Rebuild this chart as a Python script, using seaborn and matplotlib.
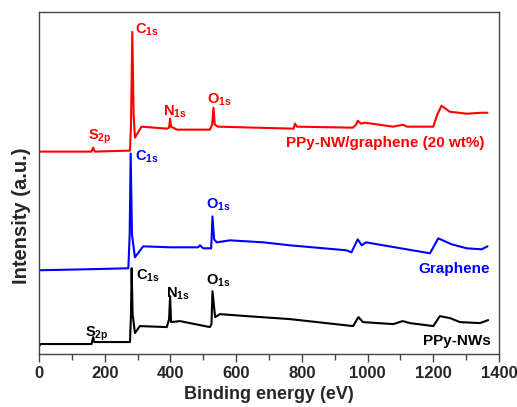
import seaborn as sns
import matplotlib.pyplot as plt
import pandas as pd
from matplotlib.ticker import MultipleLocator

# binding energy (eV) / intensity (a.u., arbitrary offset units)
ppy_x = [0, 5, 160, 165, 168, 277, 280, 282, 285, 292, 307, 389, 396, 399, 402, 429,
         520, 525, 528, 536, 551, 632, 764, 956, 972, 986, 1078, 1107, 1129, 1200,
         1220, 1251, 1281, 1342, 1367]
ppy_y = [8, 10, 10, 17, 12, 12, 40, 86, 40, 21, 28, 27, 35, 58, 32, 33,
         27, 30, 63, 37, 40, 38, 35, 28, 37, 32, 30, 33, 31, 28,
         38, 36, 32, 31, 34]

gr_x = [0, 150, 272, 276, 279, 283, 292, 317, 400, 484, 490, 500, 524, 528, 533, 541,
        581, 683, 764, 936, 951, 970, 982, 995, 1190, 1215, 1256, 1302, 1347, 1365]
gr_y = [84, 85, 86, 120, 201, 120, 97, 108, 107, 107, 109, 106, 106, 138, 115, 112,
        114, 112, 109, 104, 102, 115, 109, 112, 101, 116, 110, 106, 105, 108]

comp_x = [0, 160, 165, 170, 277, 280, 284, 288, 292, 312, 390, 396, 399, 402, 420,
          520, 527, 531, 535, 545, 660, 775, 779, 785, 955, 965, 970, 980, 992, 1078,
          1108, 1120, 1200, 1212, 1225, 1250, 1302, 1350, 1365]
comp_y = [203, 203, 207, 203, 204, 230, 323, 240, 217, 228, 226, 227, 236, 228, 225,
          225, 230, 247, 230, 228, 227, 226, 231, 228, 227, 230, 234, 231, 232, 228,
          230, 228, 228, 240, 249, 243, 241, 242, 242]

series_names = ["PPy-NWs", "Graphene", "PPy-NW/graphene (20 wt%)"]
series_colors = ["#000000", "#0000ff", "#ff0000"]

# peak labels: (text, energy, intensity) per series
peak_labels = [
    [("S$_{2p}$", 140, 20), ("C$_{1s}$", 295, 78), ("N$_{1s}$", 388, 60), ("O$_{1s}$", 508, 73)],
    [("C$_{1s}$", 292, 198), ("O$_{1s}$", 508, 150)],
    [("S$_{2p}$", 149, 218), ("C$_{1s}$", 292, 325), ("N$_{1s}$", 377, 243), ("O$_{1s}$", 511, 255)],
]
label_pos = [(1375, 13), (1372, 85), (1357, 212)]

frames = []
for name, xs, ys in zip(series_names, [ppy_x, gr_x, comp_x], [ppy_y, gr_y, comp_y]):
    frames.append(pd.DataFrame({"energy": xs, "intensity": ys, "sample": name}))
df = pd.concat(frames, ignore_index=True)

sns.set_style("ticks")
plt.rcParams["font.family"] = ["Liberation Sans", "DejaVu Sans"]
plt.rcParams["font.weight"] = "bold"
plt.rcParams["mathtext.fontset"] = "custom"
plt.rcParams["mathtext.rm"] = "Liberation Sans:bold"
plt.rcParams["mathtext.it"] = "Liberation Sans:bold"
plt.rcParams["mathtext.bf"] = "Liberation Sans:bold"

fig = plt.figure(figsize=(5.17, 4.07), dpi=100)
ax = fig.add_axes([0.0754, 0.1302, 0.8898, 0.8403])

sns.lineplot(data=df, x="energy", y="intensity", hue="sample", hue_order=series_names,
             palette=series_colors, linewidth=1.5, sort=False, estimator=None,
             legend=False, ax=ax)

for labels, col, name, (lx, ly) in zip(peak_labels, series_colors, series_names, label_pos):
    for txt, ex, iy in labels:
        ax.text(ex, iy, txt, color=col, fontsize=10.5, fontweight="bold",
                ha="left", va="center")
    ax.text(lx, ly, name, color=col, fontsize=11, fontweight="bold",
            ha="right", va="center")

ax.set_xlim(0, 1400)
ax.set_ylim(0, 343)
ax.xaxis.set_major_locator(MultipleLocator(200))
ax.xaxis.set_minor_locator(MultipleLocator(100))
ax.set_yticks([])
ax.tick_params(axis="x", which="major", direction="out", length=6, width=1,
               labelsize=12, top=False, pad=2.5, color="#444444")
ax.tick_params(axis="x", which="minor", direction="out", length=4, width=1,
               top=False, color="#444444")
for lab in ax.get_xticklabels():
    lab.set_fontweight("bold")
for sp in ax.spines.values():
    sp.set_visible(True)
    sp.set_color("#444444")
    sp.set_linewidth(1)

ax.set_xlabel("Binding energy (eV)", fontsize=13, fontweight="bold", labelpad=4)
ax.set_ylabel("Intensity (a.u.)", fontsize=14.5, fontweight="bold")
ax.yaxis.set_label_coords(-0.018, 0.405)

fig.savefig("out.png", dpi=100)
